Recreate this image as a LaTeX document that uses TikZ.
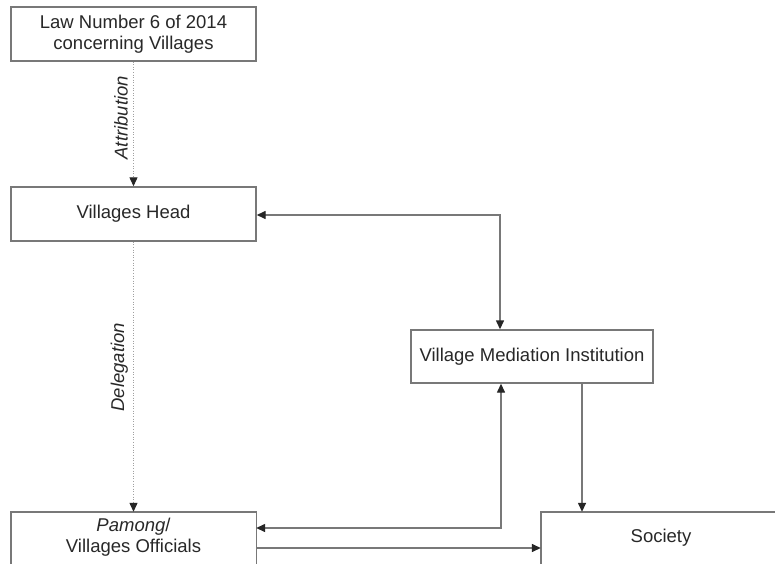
\documentclass[tikz,border=0pt]{standalone}
\usepackage{fontspec}
\setmainfont{Liberation Sans}
\usetikzlibrary{arrows.meta}
\definecolor{linegray}{RGB}{120,120,120}
\definecolor{dotgray}{RGB}{160,160,160}
\definecolor{txtgray}{RGB}{40,40,40}
\tikzset{
  boxnode/.style={draw=linegray, line width=1.4pt, minimum width=245pt, minimum height=54pt,
    inner sep=0pt, align=center, text=txtgray, font=\fontsize{18.5}{21}\selectfont},
  opennode/.style={draw=none, minimum width=245pt, minimum height=51pt,
    inner sep=0pt, align=center, text=txtgray, font=\fontsize{18.5}{21}\selectfont},
  conn/.style={draw=linegray, line width=1.4pt},
  tip/.tip={Triangle[length=9pt,width=8pt,color=black!85]},
  dotconn/.style={draw=dotgray, line width=1.2pt, dash pattern=on 1pt off 1.6pt, -tip},
  lbl/.style={rotate=90, text=txtgray, font=\fontsize{18.5}{21}\selectfont\itshape, inner sep=0pt}
}
\begin{document}
\begin{tikzpicture}[x=1pt,y=1pt]
\useasboundingbox (0,0) rectangle (775,563);
\clip (0,0) rectangle (775,562);
\fill[white] (0,0) rectangle (775,563);

\node[boxnode] (law) at (133.5,529) {Law Number 6 of 2014\\concerning Villages};
\node[boxnode] (vh) at (133.5,349) {Villages Head};
\node[boxnode, minimum width=242pt, minimum height=53pt] (vmi) at (532,206.5) {Village Mediation Institution};
\node[opennode] (pam) at (133.5,25.5) {\textit{Pamong}/\\Villages Officials};
\node[opennode, minimum width=240pt] (soc) at (661,25.5) {Society};

% open boxes (cut by the lower edge)
\draw[conn] ([yshift=-20pt]pam.south west) -- (pam.north west) -- (pam.north east) -- ([yshift=-20pt]pam.south east);
\draw[conn] ([yshift=-20pt]soc.south west) -- (soc.north west) -- ([xshift=20pt]soc.north east);

% dotted connectors
\draw[dotconn] (law.south) -- (vh.north)
  node[pos=0.45, lbl, anchor=south, yshift=5pt] (attr) {Attribution};
\draw[dotconn] (vh.south) -- (pam.north)
  node[pos=0.465, lbl, anchor=south, yshift=5pt] (dele) {Delegation};

% solid connectors
\coordinate (vmitop) at ([xshift=-32pt]vmi.north);
\coordinate (vmibot) at ([xshift=-31pt]vmi.south);
\coordinate (vmiout) at ([xshift=50pt]vmi.south);
\coordinate (pamup) at ([yshift=9.5pt]pam.east);
\coordinate (pamlo) at ([yshift=-10.5pt]pam.east);

\draw[conn, tip-tip] ([yshift=-1pt]vh.east) -| (vmitop);
\draw[conn, tip-tip] (pamup) -| (vmibot);
\draw[conn, -tip] (vmiout) -- (vmiout |- soc.north);
\draw[conn, -tip] (pamlo) -- (pamlo -| soc.west);
\end{tikzpicture}
\end{document}
